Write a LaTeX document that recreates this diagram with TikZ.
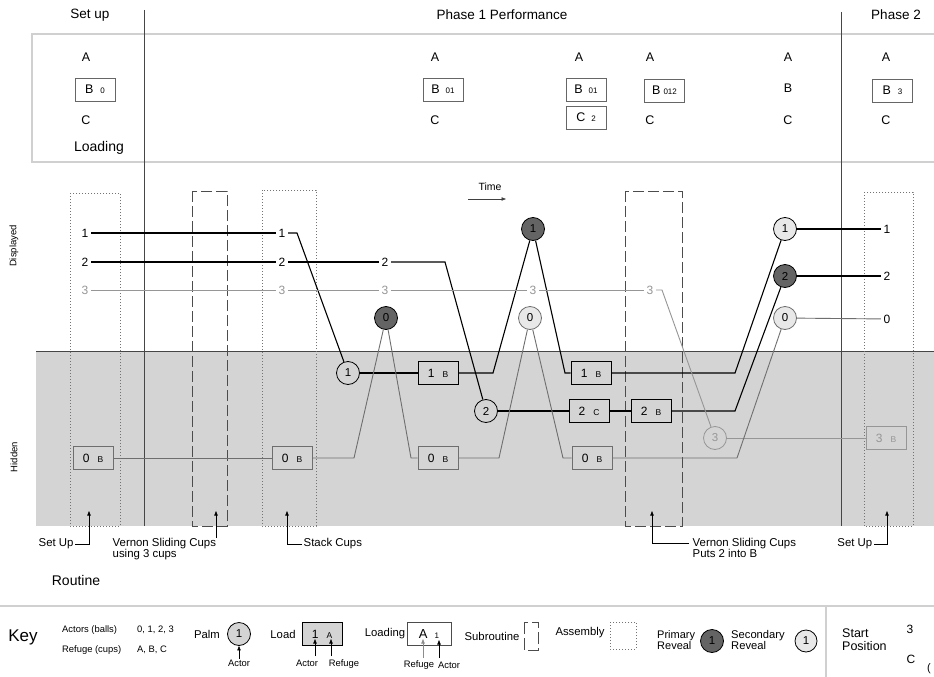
\documentclass[tikz,border=0pt]{standalone}
\usepackage{fontspec}
\setmainfont{Liberation Sans}
\usetikzlibrary{arrows.meta}
\definecolor{bggrey}{RGB}{212,212,212}
\definecolor{darkball}{RGB}{100,100,100}
\definecolor{lightball}{RGB}{232,232,232}
\definecolor{framegrey}{RGB}{208,208,208}
\definecolor{gzero}{RGB}{110,110,110}
\definecolor{gthree}{RGB}{150,150,150}
\definecolor{vline}{RGB}{70,70,70}
\newcommand\fsz[1]{\fontsize{#1}{#1}\selectfont}
\newcommand\ldtxt[2]{{\fsz{12}#1}\hspace{8pt}{\fsz{8.5}#2}}
\begin{document}
\begin{tikzpicture}[x=1pt,y=-1pt,
  hdr/.style={font=\fsz{13.5}},
  cup/.style={font=\fsz{12.5}, inner sep=1pt},
  cupbox/.style={draw=black!60, line width=0.7pt, minimum width=40pt, minimum height=23pt, inner sep=0pt, font=\fsz{12.5}},
  lab/.style={font=\fsz{12}, inner sep=2.5pt},
  ball/.style={circle, draw, line width=0.8pt, minimum size=23pt, inner sep=0pt, font=\fsz{11.5}},
  palm/.style={ball, fill=bggrey},
  prim/.style={ball, fill=darkball},
  sec/.style={ball, fill=lightball},
  ldbox/.style={draw, line width=0.8pt, fill=bggrey, minimum width=40pt, minimum height=23pt, inner sep=0pt},
  subr/.style={draw=black!70, line width=0.9pt, dash pattern=on 11pt off 4pt},
  assy/.style={draw=black!55, line width=0.9pt, dash pattern=on 1pt off 2pt},
  lone/.style={black, line width=1.1pt},
  lzero/.style={gzero, line width=0.9pt},
  lthree/.style={gthree, line width=0.9pt},
  ann/.style={font=\fontsize{11.4}{11}\selectfont, align=left, inner sep=1.5pt},
  tip/.style={-{Triangle[length=4.5pt,width=3.4pt]}, line width=0.6pt},
  keyt/.style={font=\fsz{11.3}, inner sep=1pt},
  keys/.style={font=\fsz{9.4}, inner sep=1pt},
]
\fill[white] (0,0) rectangle (934,677);
\useasboundingbox (0,0) rectangle (934,677);

% headers
\node[hdr] (hset) at (90,15) {Set up};
\node[hdr] (hph1) at (502,15) {Phase 1 Performance};
\node[hdr] (hph2) at (896,15) {Phase 2};

% loading frame
\draw[framegrey, line width=1.5pt] (934,34) -- (32,34) -- (32,162) -- (934,162);

% grey hidden region
\fill[bggrey] (36,351) rectangle (934,526);
\draw[vline, line width=0.9pt] (36,351) -- (934,351);

% assemblies and subroutines
\draw[assy] (70,193) rectangle (120,526);
\draw[assy] (262,190) rectangle (316,526);
\draw[assy] (864,192) rectangle (913,526);
\draw[subr] (192,191) rectangle (227,526);
\draw[subr] (625,191) rectangle (682,526);

% phase separators
\draw[vline, line width=0.9pt] (144,10) -- (144,526);
\draw[vline, line width=0.9pt] (841,12) -- (841,526);

% loading columns
\node[cup] (c1A) at (86,57) {A};
\node[cupbox] (c1B) at (95,89.5) {B\hspace{7pt}{\fsz{8}0}};
\node[cup] (c1C) at (86,120) {C};
\node[font=\fsz{14}] (loading) at (99,148) {Loading};

\node[cup] (c2A) at (435,57) {A};
\node[cupbox] (c2B) at (443,89.5) {B\hspace{6pt}{\fsz{8}01}};
\node[cup] (c2C) at (435,120) {C};

\node[cup] (c3A) at (579,57) {A};
\node[cupbox] (c3B) at (586,89.5) {B\hspace{6pt}{\fsz{8}01}};
\node[cupbox] (c3C) at (586,117.5) {C\hspace{6pt}{\fsz{8}2}};

\node[cup] (c4A) at (650,57) {A};
\node[cupbox] (c4B) at (664.5,90.5) {B\hspace{3pt}{\fsz{8}012}};
\node[cup] (c4C) at (650,120) {C};

\node[cup] (c5A) at (788,57) {A};
\node[cup] (c5B) at (788,88) {B};
\node[cup] (c5C) at (788,120) {C};

\node[cup] (c6A) at (886,57) {A};
\node[cupbox] (c6B) at (892.5,90.5) {B\hspace{7pt}{\fsz{8}3}};
\node[cup] (c6C) at (886,120) {C};

% side labels
\node[rotate=90, font=\fsz{9.5}] (disp) at (14,246) {Displayed};
\node[rotate=90, font=\fsz{9.5}] (hid) at (14,457) {Hidden};

% time arrow
\node[font=\fsz{10.5}] (time) at (490,187) {Time};
\coordinate (ta) at (468,199);
\coordinate (tb) at (506,199);
\draw[tip, black!75] (ta) -- (tb);

% displayed labels
\node[lab] (a1) at (85,233) {1};
\node[lab] (b1) at (282,233) {1};
\node[lab] (a2) at (85,262) {2};
\node[lab] (b2) at (282,262) {2};
\node[lab] (c2) at (385,262) {2};
\node[lab, text=gthree] (a3) at (85,290) {3};
\node[lab, text=gthree] (b3) at (282,290) {3};
\node[lab, text=gthree] (c3) at (385,290) {3};
\node[lab, text=gthree] (d3) at (533,290) {3};
\node[lab, text=gthree] (e3) at (650,290) {3};
\node[lab] (f1) at (887,229) {1};
\node[lab] (f2) at (887,276) {2};
\node[lab] (f0) at (887,319) {0};

% balls
\node[palm] (p1) at (348,373) {1};
\node[palm] (p2) at (486,411) {2};
\node[palm, draw=gthree, text=gthree] (p3) at (715,438) {3};
\node[prim] (r1) at (533,229) {1};
\node[prim] (r0) at (386,318) {0};
\node[sec, draw=gzero] (s0a) at (530,318) {0};
\node[sec] (s1) at (785,229) {1};
\node[prim] (r2) at (785,276) {2};
\node[sec, draw=gzero] (s0b) at (785,318) {0};

% load boxes
\node[ldbox] (l1a) at (438,373) {\ldtxt{1}{B}};
\node[ldbox] (l1b) at (591,373) {\ldtxt{1}{B}};
\node[ldbox] (l2c) at (589,411) {\ldtxt{2}{C}};
\node[ldbox] (l2b) at (651,411) {\ldtxt{2}{B}};
\node[ldbox, draw=gzero] (l0a) at (93,458) {\ldtxt{0}{B}};
\node[ldbox, draw=gzero] (l0b) at (292,458) {\ldtxt{0}{B}};
\node[ldbox, draw=gzero] (l0c) at (438,458) {\ldtxt{0}{B}};
\node[ldbox, draw=gzero] (l0d) at (592,458) {\ldtxt{0}{B}};
\node[ldbox, draw=gthree, text=gthree] (l3) at (886,438) {\ldtxt{3}{B}};

% bends
\coordinate (k11) at (297,233);
\coordinate (k12) at (493,373);
\coordinate (k13) at (565,373);
\coordinate (k14) at (735,373);
\coordinate (k21) at (445,262);
\coordinate (k22) at (735,411);
\coordinate (k31) at (662,290);
\coordinate (k01) at (354,458);
\coordinate (k02) at (411,458);
\coordinate (k03) at (499,458);
\coordinate (k04) at (563,458);
\coordinate (k05) at (737,458);

% actor paths
\draw[lone] (a1) -- (b1);
\draw[lone] (b1) -- (k11) -- (p1);
\draw[lone] (p1) -- (l1a);
\draw[lone] (l1a) -- (k12) -- (r1);
\draw[lone] (r1) -- (k13) -- (l1b);
\draw[lone] (l1b) -- (k14) -- (s1);
\draw[lone] (s1) -- (f1);

\draw[lone] (a2) -- (b2);
\draw[lone] (b2) -- (c2);
\draw[lone] (c2) -- (k21) -- (p2);
\draw[lone] (p2) -- (l2c);
\draw[lone] (l2c) -- (l2b);
\draw[lone] (l2b) -- (k22) -- (r2);
\draw[lone] (r2) -- (f2);

\draw[lthree] (a3) -- (b3);
\draw[lthree] (b3) -- (c3);
\draw[lthree] (c3) -- (d3);
\draw[lthree] (d3) -- (e3);
\draw[lthree] (e3) -- (k31) -- (p3);
\draw[lthree] (p3) -- (l3);

\draw[lzero] (l0a) -- (l0b);
\draw[lzero] (l0b) -- (k01) -- (r0);
\draw[lzero] (r0) -- (k02) -- (l0c);
\draw[lzero] (l0c) -- (k03) -- (s0a);
\draw[lzero] (s0a) -- (k04) -- (l0d);
\draw[lzero] (l0d) -- (k05) -- (s0b);
\draw[lzero] (s0b) -- (f0);

% annotations
\node[ann, anchor=west] (su1) at (37,544) {Set Up};
\coordinate (su1t) at (89,511);
\draw[tip] (su1) -| (su1t);
\node[ann, anchor=north west] (vsc1) at (111,537) {Vernon Sliding Cups\\using 3 cups};
\coordinate (vs1s) at (216,538);
\coordinate (vs1t) at (216,511);
\draw[tip] (vs1s) -- (vs1t);
\node[ann, anchor=west] (stk) at (302,544) {Stack Cups};
\coordinate (stkt) at (287,511);
\draw[tip] (stk) -| (stkt);
\node[ann, anchor=north west] (vsc2) at (691,537) {Vernon Sliding Cups\\Puts 2 into B};
\coordinate (vs2s) at (689,543);
\coordinate (vs2t) at (652,511);
\draw[tip] (vs2s) -| (vs2t);
\node[ann, anchor=east] (su2) at (874,544) {Set Up};
\coordinate (su2t) at (887,511);
\draw[tip] (su2) -| (su2t);

\node[font=\fsz{14}] (routine) at (76,580) {Routine};

% key
\draw[framegrey, line width=1.5pt] (0,606) -- (934,606);
\draw[framegrey, line width=1.5pt] (826,606) -- (826,677);
\node[font=\fsz{17}] (key) at (23,637) {Key};
\node[keys, anchor=west] (kact) at (61,630) {Actors (balls)};
\node[keys, anchor=west] (kactv) at (136,630) {0, 1, 2, 3};
\node[keys, anchor=west] (kref) at (61,650) {Refuge (cups)};
\node[keys, anchor=west] (krefv) at (136,650) {A, B, C};

\node[keyt] (kpalm) at (207,634) {Palm};
\node[palm] (kp) at (239,634) {1};
\node[keys] (kpa) at (239,663) {Actor};
\draw[tip] (kpa) -- (kp);

\node[keyt] (kload) at (283,634) {Load};
\node[ldbox] (kl) at (322,634) {\ldtxt{1}{A}};
\node[keys] (kla) at (307,663) {Actor};
\node[keys] (klr) at (344,664) {Refuge};
\coordinate (kla1) at (315,656);
\coordinate (kla2) at (315,639);
\coordinate (klr1) at (331,656);
\coordinate (klr2) at (331,639);
\draw[tip] (kla1) -- (kla2);
\draw[tip] (klr1) -- (klr2);

\node[keyt] (kloading) at (385,634) {Loading};
\node[cupbox, draw=black!70, minimum width=44pt] (klg) at (429,634) {{\fsz{13}A}\hspace{7pt}{\fsz{8}1}};
\node[keys] (klgr) at (419,665) {Refuge};
\node[keys] (klga) at (449,665) {Actor};
\coordinate (klgr1) at (423,658);
\coordinate (klgr2) at (423,639);
\coordinate (klga1) at (439,658);
\coordinate (klga2) at (439,640);
\draw[tip, black!45] (klgr1) -- (klgr2);
\draw[tip] (klga1) -- (klga2);

\node[keyt] (ksub) at (492,636) {Subroutine};
\draw[subr, dash pattern=on 12pt off 4pt] (524,622) rectangle (538,650);
\node[keyt] (kasm) at (580,633) {Assembly};
\draw[assy] (610,622) rectangle (636,649);

\node[keyt, align=left, anchor=west, font=\fontsize{11}{11.5}\selectfont] (kprim) at (656,640) {Primary\\Reveal};
\node[prim] (kpr) at (712,641) {1};
\node[keyt, align=left, anchor=west, font=\fontsize{11.2}{11.5}\selectfont] (ksec) at (730,640) {Secondary\\Reveal};
\node[sec, minimum size=22pt] (ksr) at (806,641) {1};

\node[align=left, anchor=west, inner sep=1pt, font=\fontsize{12.5}{13}\selectfont] (kstart) at (841,640) {Start\\Position};
\node[font=\fsz{12}] (kst3) at (910,629) {3};
\node[font=\fsz{12}] (kstc) at (911,659) {C};
\node[font=\fsz{11}, inner sep=0.5pt] (kpar) at (929,669) {(};
\end{tikzpicture}
\end{document}
